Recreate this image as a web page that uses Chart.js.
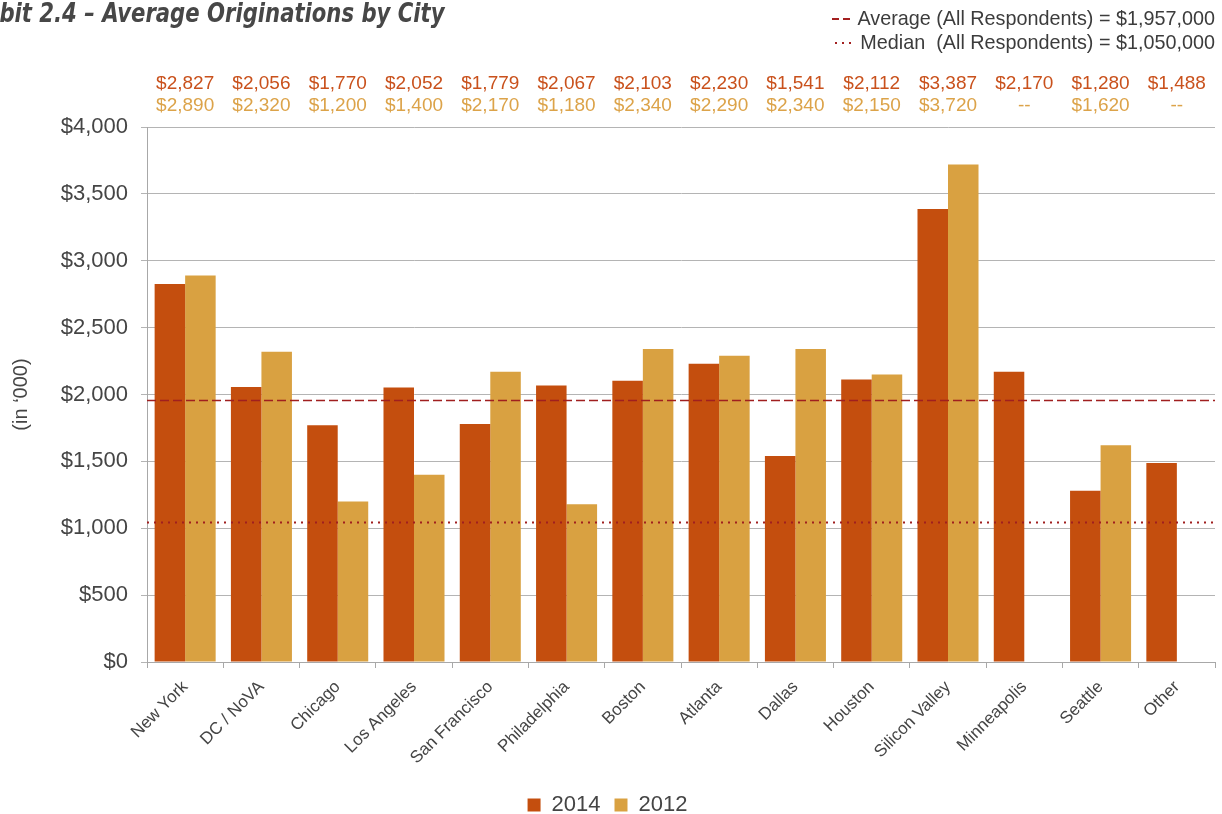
<!DOCTYPE html>
<html>
<head>
<meta charset="utf-8">
<script src="https://cdn.jsdelivr.net/npm/chart.js@4.4.1/dist/chart.umd.min.js"></script>
<style>
  html, body { margin: 0; padding: 0; background: #ffffff; overflow: hidden; }
  #wrap { position: relative; width: 1222px; height: 814px; overflow: hidden; }
  #chart { position: absolute; left: 0; top: 0; }
  #title { position: absolute; top: -2px; left: 0; white-space: nowrap; transform-origin: 0 0;
    font-family: "Liberation Sans Narrow", "DejaVu Sans Condensed", "Liberation Sans", sans-serif;
    font-stretch: condensed; font-weight: bold; font-style: italic; font-size: 26px; color: #474747; }
  #refs { position: absolute; right: 7px; top: 6px; text-align: right;
    font-family: "Liberation Sans", Arial, sans-serif; font-size: 19.8px; color: #3c3c3c; line-height: 24px; }
  .sym { display: inline-block; width: 19px; vertical-align: middle; margin-right: 6px; position: relative; top: -1px; }
  .dash { height: 1.5px; background: repeating-linear-gradient(to right, #a32020 0 7px, transparent 7px 11px); }
  .dot { height: 2px; background: repeating-linear-gradient(to right, #a32020 0 2px, transparent 2px 7px); }
</style>
</head>
<body>
<div id="wrap">
  <canvas id="chart" width="1222" height="826"></canvas>
  <div id="title"><span id="cut">Exhi</span>bit 2.4 – Average Originations by City</div>
  <div id="refs">
    <div><span class="sym dash"></span>Average (All Respondents) = $1,957,000</div>
    <div><span class="sym dot"></span>Median&nbsp; (All Respondents) = $1,050,000</div>
  </div>
</div>
<script>
const cities = ["New York", "DC / NoVA", "Chicago", "Los Angeles", "San Francisco", "Philadelphia",
  "Boston", "Atlanta", "Dallas", "Houston", "Silicon Valley", "Minneapolis", "Seattle", "Other"];
const values2014 = [2827, 2056, 1770, 2052, 1779, 2067, 2103, 2230, 1541, 2112, 3387, 2170, 1280, 1488];
const values2012 = [2890, 2320, 1200, 1400, 2170, 1180, 2340, 2290, 2340, 2150, 3720, null, 1620, null];
const seriesNames = ["2014", "2012"];
const averageAll = 1957;
const medianAll = 1050;
const yTicks = [0, 500, 1000, 1500, 2000, 2500, 3000, 3500, 4000];

const C2014 = "#c44e0e";
const C2012 = "#d9a141";
const LBL2014 = "#c9511c";
const LBL2012 = "#dca349";
const REF = "#a01f1f";
const FONT = "'Liberation Sans', Arial, sans-serif";

// clip "Exhi" off the left edge like the reference (title is horizontally condensed)
const TITLE_SCALE = 0.905;
const titleEl = document.getElementById('title');
titleEl.style.transform = 'scaleX(' + TITLE_SCALE + ')';
const cutW = document.getElementById('cut').offsetWidth;
titleEl.style.left = (-cutW * TITLE_SCALE) + 'px';

const fmt = v => v == null ? "--" : "$" + v.toLocaleString("en-US");

const overlay = {
  id: 'overlay',
  afterDatasetsDraw(chart) {
    const {ctx, chartArea, scales} = chart;
    const y = scales.y;
    ctx.save();
    ctx.lineWidth = 1.5;
    ctx.strokeStyle = REF;
    let py = Math.round(y.getPixelForValue(averageAll)) + 0.5;
    ctx.setLineDash([9, 4]);
    ctx.beginPath(); ctx.moveTo(chartArea.left, py); ctx.lineTo(chartArea.right, py); ctx.stroke();
    py = Math.round(y.getPixelForValue(medianAll)) + 0.5;
    ctx.lineWidth = 2;
    ctx.setLineDash([2, 5]);
    ctx.beginPath(); ctx.moveTo(chartArea.left, py); ctx.lineTo(chartArea.right, py); ctx.stroke();
    ctx.restore();
  },
  afterDraw(chart) {
    const {ctx, scales} = chart;
    const x = scales.x;
    ctx.save();
    ctx.font = "19px " + FONT;
    ctx.textAlign = "center";
    ctx.textBaseline = "middle";
    cities.forEach((c, i) => {
      const px = x.getPixelForValue(i);
      ctx.fillStyle = LBL2014;
      ctx.fillText(fmt(values2014[i]), px, 84);
      ctx.fillStyle = LBL2012;
      ctx.fillText(fmt(values2012[i]), px, 106);
    });
    ctx.restore();
  }
};

new Chart(document.getElementById('chart'), {
  type: 'bar',
  data: {
    labels: cities,
    datasets: [
      { label: seriesNames[0], data: values2014, backgroundColor: C2014, borderWidth: 0 },
      { label: seriesNames[1], data: values2012, backgroundColor: C2012, borderWidth: 0 }
    ]
  },
  options: {
    responsive: false,
    animation: false,
    devicePixelRatio: 1,
    layout: { padding: { top: 127, left: 0, right: 7, bottom: 0 } },
    datasets: { bar: { categoryPercentage: 0.8, barPercentage: 1.0 } },
    plugins: {
      legend: {
        position: 'bottom',
        labels: { font: { family: FONT, size: 22 }, color: '#454545', boxWidth: 13, boxHeight: 13, padding: 14 }
      },
      tooltip: { enabled: false },
      title: { display: false }
    },
    scales: {
      x: {
        offset: true,
        grid: { display: true, drawOnChartArea: false, offset: true, tickLength: 6, color: '#a8a8a8' },
        border: { display: true, color: '#a8a8a8', width: 1 },
        ticks: { font: { family: FONT, size: 17 }, color: '#454545', maxRotation: 45, minRotation: 45, padding: 9 },
        afterFit(s) { s.height = 118; }
      },
      y: {
        min: 0, max: 4000,
        afterBuildTicks(s) { s.ticks = yTicks.map(v => ({ value: v })); },
        grid: { color: '#b4b4b4', tickLength: 6, lineWidth: 1 },
        border: { display: true, color: '#a8a8a8' },
        ticks: { font: { family: FONT, size: 22 }, color: '#454545', padding: 13,
          callback: v => "$" + Number(v).toLocaleString("en-US") },
        title: { display: true, text: "(in ‘000)", font: { family: FONT, size: 20 }, color: '#454545', padding: { top: 9, bottom: 0 } },
        afterFit(s) { s.width = 147; }
      }
    }
  },
  plugins: [overlay]
});
</script>
</body>
</html>
